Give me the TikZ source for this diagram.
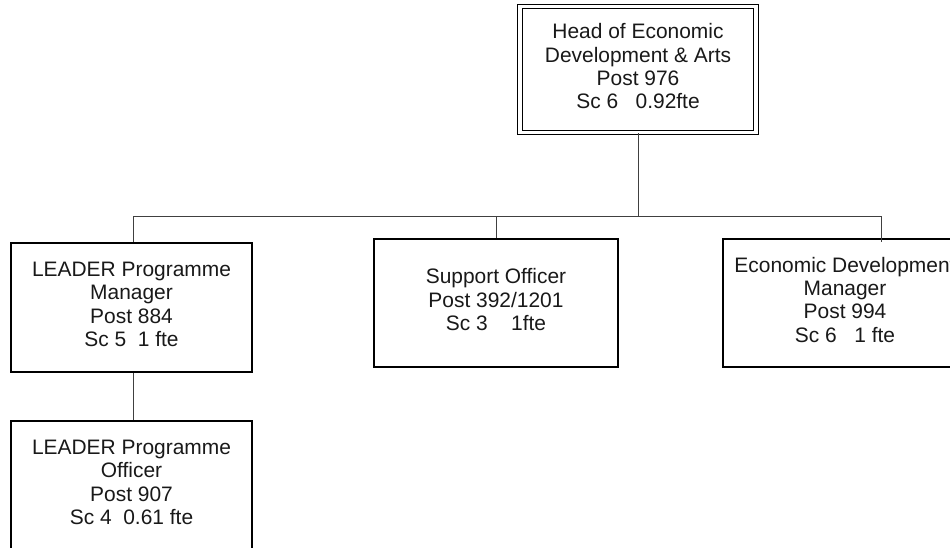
\documentclass[tikz,border=0pt]{standalone}
\usepackage{fontspec}
\setmainfont{Liberation Sans}
\begin{document}
\begin{tikzpicture}[x=0.75pt,y=-0.75pt,
  post/.style={draw=black, line width=1.1pt, rectangle, inner sep=0pt,
    minimum width=180.75pt, minimum height=96.75pt},
  widepost/.style={post, minimum width=183pt, minimum height=96pt},
  headpost/.style={post, double, double distance=2.4pt, line width=0.9pt,
    minimum width=177pt, minimum height=94.5pt},
  posttext/.style={align=center, inner sep=0pt, yshift=2.4pt, text=black!90,
    font=\fontsize{15.7pt}{17.5pt}\selectfont},
  link/.style={draw=black!75, line width=0.75pt}]
\useasboundingbox (0,0) rectangle (950,547);
\clip (0,0) rectangle (950,547);
\fill[white] (0,0) rectangle (950,547);

% post boxes
\node[headpost] (head) at (638,69.5) {};
\node[post] (lpm) at (131.5,307.5) {};
\node[widepost] (so) at (496,303) {};
\node[widepost] (edm) at (845,303) {};
\node[post] (lpo) at (131.5,485.5) {};

% post titles, grades and hours
\node[posttext] (head-t) at (head) {Head of Economic\\Development \& Arts\\Post 976\\Sc 6\ \ \ 0.92fte};
\node[posttext] (lpm-t) at (lpm) {LEADER Programme\\Manager\\Post 884\\Sc 5\ \ 1 fte};
\node[posttext] (so-t) at (so) {Support Officer\\Post 392/1201\\Sc 3\ \ \ \ 1fte};
\node[posttext] (edm-t) at (edm) {Economic Development\\Manager\\Post 994\\Sc 6\ \ \ 1 fte};
\node[posttext] (lpo-t) at (lpo) {LEADER Programme\\Officer\\Post 907\\Sc 4\ \ 0.61 fte};

% reporting lines
\coordinate (busL) at (133,216);
\coordinate (busR) at (881,216);
\draw[link] (head.south) -- (head.south |- busL);
\draw[link] (busL) -- (busR);
\draw[link] (busL) -- (busL |- lpm.north);
\draw[link] (so.north |- busL) -- (so.north);
\draw[link] (busR) -- ([yshift=-3pt]busR |- edm.north);
\draw[link] (busL |- lpm.south) -- (busL |- lpo.north);
\end{tikzpicture}
\end{document}
